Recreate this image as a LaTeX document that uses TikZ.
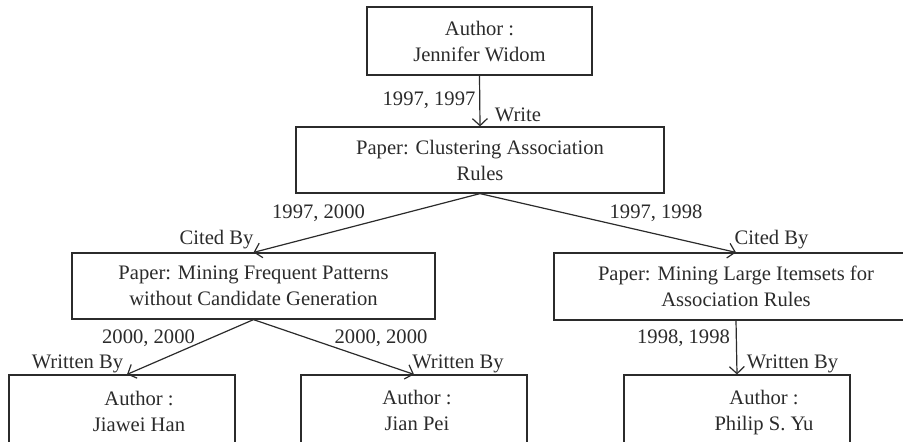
\documentclass[tikz,border=0pt]{standalone}
\usepackage{fontspec}
\setmainfont{Liberation Serif}
\usetikzlibrary{arrows.meta}
\definecolor{ink}{HTML}{2B2B2B}
\begin{document}
\begin{tikzpicture}[x=0.5pt,y=-0.5pt,
  box/.style={draw=ink, line width=0.6pt, rectangle, inner sep=0pt, align=center,
    font=\fontsize{10.3}{13}\selectfont, text=ink},
  lbl/.style={inner sep=0pt, anchor=base, font=\fontsize{10.3}{13}\selectfont, text=ink},
  conn/.style={draw=ink, line width=0.6pt, -{Straight Barb[length=3.5pt,width=7.5pt]}}]
\path[use as bounding box, clip] (0,0) rectangle (903,441);
% boxes
\node[box, minimum width=112.5pt, minimum height=34pt] (jw) at (479.5,41) {Author :\\Jennifer Widom};
\node[box, minimum width=184pt, minimum height=33pt] (p1) at (480,160) {Paper: Clustering Association\\Rules};
\node[box, minimum width=181.5pt, minimum height=33pt] (p2) at (253.5,286) {Paper: Mining Frequent Patterns\\without Candidate Generation};
\node[box, minimum width=182pt, minimum height=33.5pt] (p3) at (736,286.5) {Paper: Mining Large Itemsets for\\Association Rules};
\node[box, minimum width=113pt, minimum height=42.5pt] (b1) at (122,417.5) {};
\node[box, minimum width=113pt, minimum height=42.5pt] (b2) at (414,417.5) {};
\node[box, minimum width=113pt, minimum height=42.5pt] (b3) at (737,417.5) {};
% bottom box texts
\node[lbl] (b1a) at (139,405) {Author :};
\node[lbl] (b1b) at (139,431) {Jiawei Han};
\node[lbl] (b2a) at (417,404) {Author :};
\node[lbl] (b2b) at (417,430) {Jian Pei};
\node[lbl] (b3a) at (764,404) {Author :};
\node[lbl] (b3b) at (764,430) {Philip S. Yu};
% connectors
\draw[conn] (jw.south) -- (p1.north);
\draw[conn] (p1.south) -- (p2.north);
\draw[conn] (p1.south) -- (p3.north);
\draw[conn] (p2.south) -- ([xshift=2.5pt]b1.north);
\draw[conn] (p2.south) -- (b2.north);
\draw[conn] (p3.south) -- (b3.north);
% labels
\node[lbl] (l1) at (429,105) {1997, 1997};
\node[lbl] (l2) at (518,121) {Write};
\node[lbl] (l3) at (318.5,218) {1997, 2000};
\node[lbl] (l4) at (216.5,244) {Cited By};
\node[lbl] (l5) at (656,218) {1997, 1998};
\node[lbl] (l6) at (771.5,244) {Cited By};
\node[lbl] (l7) at (148.5,343) {2000, 2000};
\node[lbl] (l8) at (77.5,368) {Written By};
\node[lbl] (l9) at (381,343) {2000, 2000};
\node[lbl] (l10) at (458,368) {Written By};
\node[lbl] (l11) at (683.5,343) {1998, 1998};
\node[lbl] (l12) at (792.5,368) {Written By};
\end{tikzpicture}
\end{document}
